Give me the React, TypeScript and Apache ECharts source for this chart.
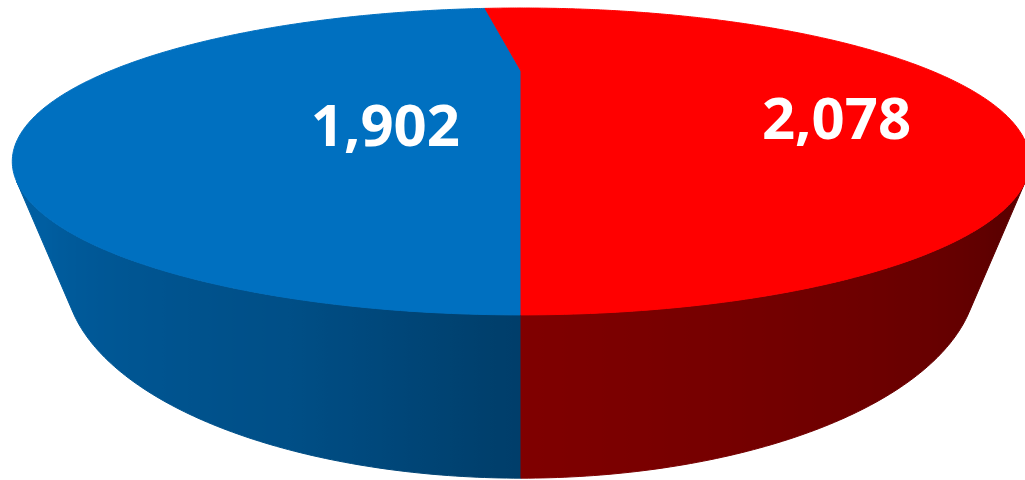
import React, { useEffect, useRef } from 'react';
import * as echarts from 'echarts';

// ---- data ----
const categories = ['Slice 1', 'Slice 2'];
const values = [1902, 2078];
const topColors = ['#0070C0', '#FF0000'];

// ---- view geometry (perspective projection of a 3D disk) ----
const CX = 521;
const CY = 71;
const FX = 655;
const FY = 466.6;
const PHI = (20 * Math.PI) / 180; // camera elevation
const DIST = 1.594; // camera distance (disk radius = 1)
const THICK = 0.357; // disk thickness
const START = -90; // first slice starts at the front, clockwise
const SN = Math.sin(PHI);
const CS = Math.cos(PHI);
const VIS_B = (Math.asin(-1 / (DIST * CS)) * 180) / Math.PI; // ≈ -41.9
const VIS_A = -180 - VIS_B; // ≈ -138.1
const LABEL_R = 0.55;
const LABEL_DX = 95;
const LABEL_DY = 49;

// wall shading table (fraction of top colour) by angle
const SHADE_LEFT: number[][] = [[-138.2, 0.84], [-105, 0.7], [-90, 0.55]];
const SHADE_RIGHT: number[][] = [[-90, 0.5], [-66, 0.43], [-41.8, 0.36]];

function project(r: number, deg: number, h: number): number[] {
  const t = (deg * Math.PI) / 180;
  const x = r * Math.cos(t);
  const z = -r * Math.sin(t);
  const y = h;
  const depth = DIST - y * SN - z * CS;
  return [CX + (FX * x) / depth, CY - (FY * (y * CS - z * SN)) / depth];
}

function interp(table: number[][], d: number): number {
  if (d <= table[0][0]) return table[0][1];
  for (let i = 1; i < table.length; i++) {
    if (d <= table[i][0]) {
      const [a, fa] = table[i - 1];
      const [b, fb] = table[i];
      return fa + ((fb - fa) * (d - a)) / (b - a);
    }
  }
  return table[table.length - 1][1];
}

function shadeColor(hex: string, f: number): string {
  const n = parseInt(hex.slice(1), 16);
  const r = Math.round(((n >> 16) & 255) * f);
  const g = Math.round(((n >> 8) & 255) * f);
  const b = Math.round((n & 255) * f);
  return `rgb(${r},${g},${b})`;
}

const total = values.reduce((s, v) => s + v, 0);

function renderItem(params: any, api: any) {
  const i = params.dataIndex;
  const v = api.value(0);
  const before = values.slice(0, i).reduce((s, x) => s + x, 0);
  const a0 = START - (before / total) * 360;
  const a1 = START - ((before + v) / total) * 360;
  const base = topColors[i % topColors.length];
  const children: any[] = [];

  // outer wall (visible front part only)
  for (const k of [-360, 0, 360]) {
    const lo = Math.max(a1, VIS_A + k);
    const hi = Math.min(a0, VIS_B + k);
    if (hi <= lo) continue;
    const n = Math.max(2, Math.ceil((hi - lo) / 0.5));
    const top: number[][] = [];
    const bot: number[][] = [];
    const angs: number[] = [];
    for (let j = 0; j <= n; j++) {
      const d = lo + ((hi - lo) * j) / n;
      angs.push(d - k);
      top.push(project(1, d, 0));
      bot.push(project(1, d, -THICK));
    }
    const pts = top.concat(bot.slice().reverse());
    let minX = Infinity;
    let maxX = -Infinity;
    pts.forEach((p) => {
      minX = Math.min(minX, p[0]);
      maxX = Math.max(maxX, p[0]);
    });
    const leftSide = (lo + hi) / 2 - k < -90;
    const stops: any[] = angs.map((d, j) => {
      const xm = (top[j][0] + bot[j][0]) / 2;
      const f = interp(leftSide ? SHADE_LEFT : SHADE_RIGHT, d);
      return { offset: Math.min(1, Math.max(0, (xm - minX) / (maxX - minX))), color: shadeColor(base, f) };
    });
    stops.sort((p, q) => p.offset - q.offset);
    const grad = new echarts.graphic.LinearGradient(0, 0, 1, 0, stops);
    children.push({
      type: 'polygon',
      shape: { points: pts },
      style: { fill: grad, stroke: grad, lineWidth: 1 },
    });
  }

  // top face
  const tn = Math.max(2, Math.ceil((a0 - a1) / 0.5));
  const topPts: number[][] = [project(0, 0, 0)];
  for (let j = 0; j <= tn; j++) {
    topPts.push(project(1, a0 - ((a0 - a1) * j) / tn, 0));
  }
  children.push({
    type: 'polygon',
    shape: { points: topPts },
    style: { fill: base, stroke: base, lineWidth: 1 },
  });

  // value label
  const mid = (a0 + a1) / 2;
  const lp = project(LABEL_R, mid, 0);
  children.push({
    type: 'text',
    x: lp[0] + LABEL_DX,
    y: lp[1] + LABEL_DY,
    style: {
      text: Number(v).toLocaleString('en-US'),
      fill: '#FFFFFF',
      font: 'bold 58px "Open Sans", "Noto Sans", sans-serif',
      textAlign: 'center',
      textVerticalAlign: 'middle',
    },
  });

  return { type: 'group', children };
}

export default function App() {
  const ref = useRef<HTMLDivElement>(null);
  useEffect(() => {
    if (!ref.current) return;
    const chart = echarts.init(ref.current, null, { renderer: 'svg' });
    chart.setOption({
      animation: false,
      backgroundColor: '#FFFFFF',
      series: [
        {
          type: 'custom',
          coordinateSystem: 'none',
          renderItem,
          data: values.map((v, i) => ({ name: categories[i], value: v })),
        },
      ],
    });
    return () => chart.dispose();
  }, []);
  return (
    <div
      ref={ref}
      style={{ position: 'absolute', left: 0, top: 0, width: 1025, height: 480 }}
    />
  );
}
